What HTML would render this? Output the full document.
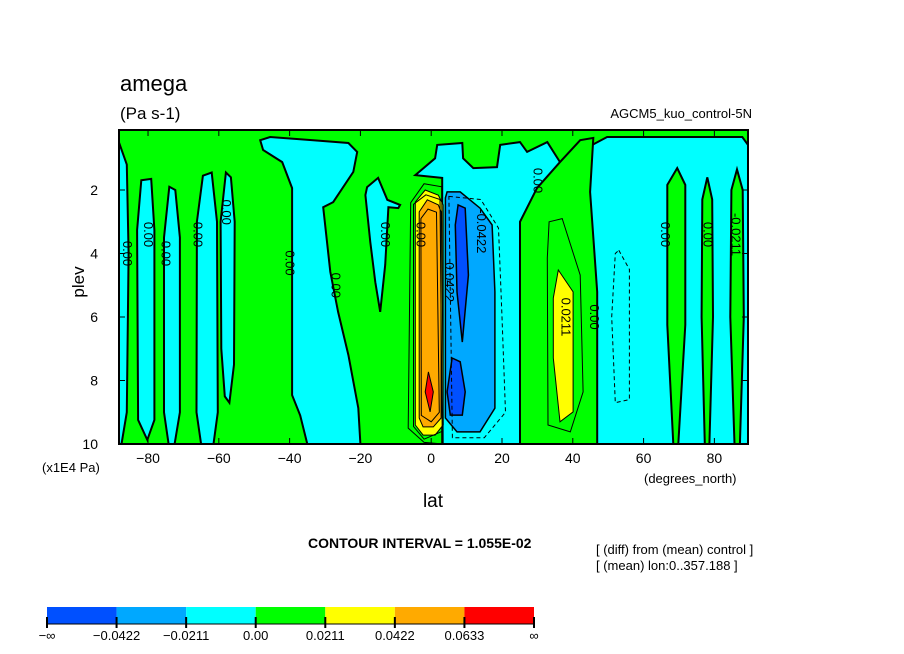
<!DOCTYPE html>
<html><head><meta charset="utf-8"><style>
body{margin:0;background:#fff;}
svg{display:block;font-family:"Liberation Sans",sans-serif;}
</style></head><body>
<svg id="chart" width="904" height="654" viewBox="0 0 904 654" xmlns="http://www.w3.org/2000/svg">
<g id="plot"></g>
<g id="axes"></g>
<g id="legend"></g>
<text x="120" y="91" font-size="22">amega</text>
<text x="120" y="119" font-size="17">(Pa s-1)</text>
<text x="752" y="118" font-size="13" text-anchor="end">AGCM5_kuo_control-5N</text>
<text x="0" y="0" font-size="17" transform="translate(84,282) rotate(-90)" text-anchor="middle">plev</text>
<text x="42" y="472" font-size="13">(x1E4 Pa)</text>
<text x="433" y="507" font-size="19" text-anchor="middle">lat</text>
<text x="644" y="483" font-size="13">(degrees_north)</text>
<text x="308" y="548" font-size="14" font-weight="bold">CONTOUR INTERVAL = 1.055E-02</text>
<text x="596" y="554" font-size="13">[ (diff) from (mean) control ]</text>
<text x="596" y="570" font-size="13">[ (mean) lon:0..357.188 ]</text>
</svg>
<script>
const latTicks=[-80,-60,-40,-20,0,20,40,60,80];
const plevTicks=[2,4,6,8,10];
const legendColors=["#0050ff","#00a8ff","#00ffff","#00ff00","#ffff00","#ffaa00","#ff0000"];
const legendLabels=["−∞","−0.0422","−0.0211","0.00","0.0211","0.0422","0.0633","∞"];
const regionFills=["#00ffff","#00ffff","#00ffff","#00ffff","#00ffff","#00ffff","#00ffff","#00ffff","#00ff00","#00ff00","#00ff00","#00ff00","#ffff00","#00a8ff","#0050ff","#0050ff","#ffff00","#ffaa00","#ff0000"];
const regionStroke=[2,2,2,2,2,2,2,2,2,2,2,2,1,1.5,1.5,1.5,1,1,1];
const regionPoints=[
[[-88.2,0.5],[-86,1.2],[-85.5,4],[-86,9],[-87.5,10],[-88.2,10]],
[[-81.9,1.69],[-79.1,1.65],[-78.2,3.26],[-78.2,9.24],[-80.2,9.87],[-82.8,9.24],[-83.1,3.26]],
[[-74,1.9],[-72.3,2],[-71,3.5],[-71,9],[-72.5,10],[-74.2,10],[-75.5,9],[-75.5,3.5]],
[[-64.5,1.55],[-62,1.45],[-60.5,3],[-60.3,9],[-61.5,10],[-65,10],[-66.3,9],[-66.2,3]],
[[-58,1.45],[-56.6,1.6],[-55.5,3],[-55.7,7.5],[-57,8.7],[-58.3,8.5],[-59.3,7],[-59.5,3]],
[[-48.3,0.43],[-45.5,0.33],[-33.3,0.43],[-23.4,0.52],[-20.9,0.8],[-22,1.43],[-27.7,2.38],[-30.5,2.54],[-28.5,4.58],[-26.3,5.84],[-23.4,7.2],[-20.6,8.87],[-20,10],[-35,10],[-37,9.1],[-39.3,8.46],[-39.3,4.77],[-39.3,1.94],[-42.1,1.12],[-47.5,0.74]],
[[-18.1,1.91],[-15,1.62],[-12.4,2.31],[-8.8,2.47],[-9.3,2.57],[-12.1,2.54],[-13,4.36],[-14.4,5.84],[-15.8,4.9],[-17.2,3.64],[-18.6,2.16]],
[[-4.5,1.53],[1.1,1],[1.7,0.58],[8.8,0.52],[9,1],[11.9,1.31],[18.6,1.28],[19.5,0.58],[25.1,0.49],[27.1,0.8],[32.8,0.49],[36.4,1.12],[49.7,0.33],[87.9,0.33],[89.5,0.58],[89.5,10],[3.1,10],[3.1,1.62]],
[[29.9,1.94],[36.4,1.12],[42.1,0.43],[45.8,0.36],[44.9,2.06],[46.9,5.21],[46.9,10],[25.1,10],[25.1,3]],
[[69.5,1.31],[71.8,1.84],[71.8,6.25],[69.8,10],[68.4,10],[66.7,6.25],[66.7,1.84]],
[[78,1.6],[79.4,2.3],[79.6,6],[78.6,10],[77.3,10],[76.4,6],[76.6,2.3]],
[[86.4,1.35],[88,2],[88.3,6],[87.2,10],[85.7,10],[84.5,6],[84.8,2]],
[[35.9,4.52],[40.1,5.21],[40.1,8.99],[36.4,9.3],[34.5,7.29],[34.5,5.4]],
[[4.5,2.06],[8.2,2.06],[13.8,2.57],[17.2,3.1],[18,5.21],[18,8.87],[13.8,9.62],[7.3,9.62],[4,9.18],[4,2.25]],
[[7.6,2.47],[9.6,2.57],[10.5,4.68],[8.8,6.79],[7.3,5.21],[6.8,3.1]],
[[5.9,7.29],[8.2,7.41],[9.6,8.36],[8.8,9.09],[5.4,9.09],[4.5,8.36]],
[[-1.7,2],[2,2.16],[3.4,2.47],[3.4,9.4],[1.1,9.72],[-2.3,9.72],[-4.5,9.4],[-4.5,2.38]],
[[-1.1,2.31],[2,2.47],[2.8,2.69],[2.8,9.18],[0.6,9.46],[-2.3,9.46],[-3.4,9.18],[-3.4,2.69]],
[[-0.8,7.73],[0.6,8.36],[-0.3,8.99],[-1.7,8.36]]
];
const thinLines=[
[[33.3,3],[37,2.9],[42.1,4.68],[42.9,8.36],[39.3,9.62],[33,9.4],[32.8,4.14]],
[[-2,1.8],[3,1.9],[3.4,10],[-2,9.95],[-6.5,9.5],[-5.8,2.4]],
[[-1.5,2.15],[2.5,2.3],[3.1,9.6],[-2,9.85],[-5,9.45],[-5,2.45]],
[[-0.9,2.6],[1.5,2.7],[2.3,9],[0,9.3],[-2.8,9.1],[-2.9,2.9]]
];
const dashedLines=[
[[5,2.2],[14,2.3],[19,3.2],[20,6],[21,9],[15,9.8],[6,9.8]],
[[53,3.9],[56,4.5],[56,8.6],[52,8.7],[51,6],[52,4]]
];
const labelTexts=["0.00","0.00","0.00","0.00","0.00","0.00","0.00","0.00","0.00","0.00","0.00","0.00","-0.0211","-0.0422","0.0422","0.0211","0.00"];
const labelPos=[[-86,4],[-80,3.4],[-75,4],[-66,3.4],[-58,2.7],[-40,4.3],[-27,5],[-13,3.4],[-3,3.4],[30,1.7],[66,3.4],[78,3.4],[86,3.4],[14,3.3],[5,4.9],[38,6],[46,6]];

const X0=119,X1=748,Y0=130,Y1=444,LAT0=-88.2,LAT1=89.5,P0=0.11,P1=10;
function x(lat){return X0+(lat-LAT0)/(LAT1-LAT0)*(X1-X0);}
function y(p){return Y0+(p-P0)/(P1-P0)*(Y1-Y0);}
const NS="http://www.w3.org/2000/svg";
function mk(tag,attrs,parent){const e=document.createElementNS(NS,tag);for(const k in attrs)e.setAttribute(k,attrs[k]);parent.appendChild(e);return e;}
function pts(a){return a.map(p=>x(p[0]).toFixed(1)+','+y(p[1]).toFixed(1)).join(' ');}
const plot=document.getElementById('plot');
const bg=mk('rect',{x:X0,y:Y0,width:X1-X0,height:Y1-Y0,fill:'#00ff00'},plot);


regionPoints.forEach((p,i)=>{
  const pl=mk('polygon',{points:pts(p),fill:regionFills[i],stroke:'#000','stroke-width':regionStroke[i]},plot);
  
  
});
thinLines.forEach(p=>{
  const pl=mk('polygon',{points:pts(p),fill:'none',stroke:'#000','stroke-width':1},plot);
  
  
});
dashedLines.forEach(p=>{
  const pl=mk('polygon',{points:pts(p),fill:'none',stroke:'#000','stroke-width':1,'stroke-dasharray':'4,3'},plot);
  
  
});
labelTexts.forEach((t,i)=>{
  const tx=x(labelPos[i][0]),ty=y(labelPos[i][1]);
  const el=mk('text',{x:0,y:0,'font-size':13,'text-anchor':'middle',transform:`translate(${tx.toFixed(1)},${ty.toFixed(1)}) rotate(90)`,dy:'4'},plot);
  el.textContent=t;
  
  
});
const axes=document.getElementById('axes');
const frame=mk('rect',{x:X0,y:Y0,width:X1-X0,height:Y1-Y0,fill:'none',stroke:'#000','stroke-width':2},axes);


latTicks.forEach(v=>{
  const t=mk('text',{x:x(v),y:463,'font-size':14,'text-anchor':'middle'},axes);
  t.textContent=v<0?'−'+(-v):String(v);
  
  
  mk('line',{x1:x(v),x2:x(v),y1:Y1,y2:Y1-6,stroke:'#000'},axes);
  mk('line',{x1:x(v),x2:x(v),y1:Y0,y2:Y0+6,stroke:'#000'},axes);
});
plevTicks.forEach(v=>{
  const t=mk('text',{x:98,y:y(v)+5,'font-size':14,'text-anchor':'end'},axes);
  t.textContent=String(v);
  
  
  mk('line',{x1:X0,x2:X0+6,y1:y(v),y2:y(v),stroke:'#000'},axes);
  mk('line',{x1:X1,x2:X1-6,y1:y(v),y2:y(v),stroke:'#000'},axes);
});
const leg=document.getElementById('legend');
const LX=47,LW=(534-47)/legendColors.length;
legendColors.forEach((c,i)=>{
  const r=mk('rect',{x:LX+i*LW,y:607,width:LW,height:17,fill:c},leg);
  
  
});
legendLabels.forEach((l,i)=>{
  mk('line',{x1:LX+i*LW,x2:LX+i*LW,y1:617,y2:628,stroke:'#000','stroke-width':2},leg);
  const t=mk('text',{x:LX+i*LW,y:640,'font-size':13,'text-anchor':'middle'},leg);
  t.textContent=l;
  
  
});
mk('line',{x1:LX,x2:534,y1:624,y2:624,stroke:'#000','stroke-width':1},leg);
</script>
</body></html>
